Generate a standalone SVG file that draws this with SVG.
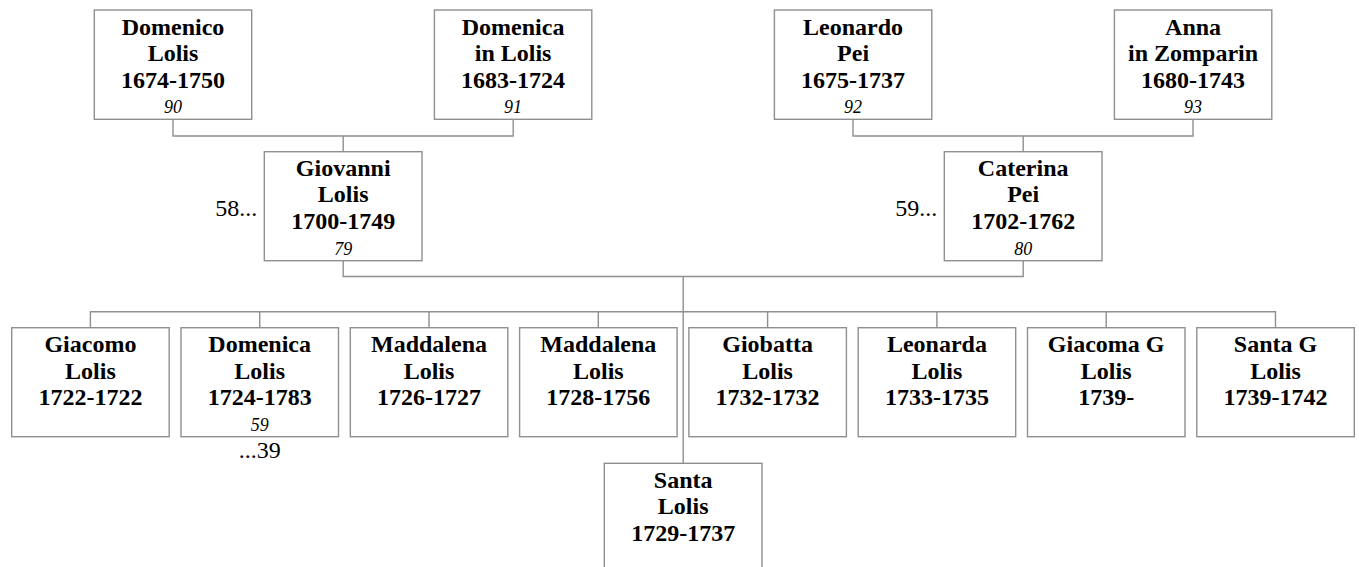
<svg xmlns="http://www.w3.org/2000/svg" width="1359" height="567" viewBox="0 0 1359 567">
<style>
.box{fill:#fff;stroke:#8f8f8f;stroke-width:1.4}
.con{fill:none;stroke:#8f8f8f;stroke-width:1.4}
.n{font-family:"Liberation Serif","Times New Roman",serif;font-weight:bold;font-size:24px;text-anchor:middle;fill:#000}
.i{font-family:"Liberation Serif","Times New Roman",serif;font-style:italic;font-size:18px;text-anchor:middle;fill:#000}
.r{font-family:"Liberation Serif","Times New Roman",serif;font-size:24px;fill:#000}
</style>
<rect width="1359" height="567" fill="#fff"/>
<g id="connectors">
<path class="con" d="M173,119.3 V136 H513.2 V119.3 M343.2,136 V151.7"/>
<path class="con" d="M853,119.3 V136 H1193 V119.3 M1023.2,136 V151.7"/>
<path class="con" d="M343.2,260.7 V276.5 H1023.2 V260.7 M683.2,276.5 V463.3"/>
<path class="con" d="M90.4,327.7 V311.7 H1275.5 V327.7 M259.7,311.7 V327.7 M429,311.7 V327.7 M598.3,311.7 V327.7 M767.6,311.7 V327.7 M936.9,311.7 V327.7 M1106.2,311.7 V327.7"/>
</g>
<g id="n90">
<rect class="box" x="94.3" y="10" width="157.4" height="109.3"/>
<text class="n" x="173" y="34.5">Domenico</text>
<text class="n" x="173" y="61">Lolis</text>
<text class="n" x="173" y="87.5">1674-1750</text>
<text class="i" x="173" y="113.3">90</text>
</g>
<g id="n91">
<rect class="box" x="434.4" y="10" width="157.4" height="109.3"/>
<text class="n" x="513.1" y="34.5">Domenica</text>
<text class="n" x="513.1" y="61">in Lolis</text>
<text class="n" x="513.1" y="87.5">1683-1724</text>
<text class="i" x="513.1" y="113.3">91</text>
</g>
<g id="n92">
<rect class="box" x="774.4" y="10" width="157.4" height="109.3"/>
<text class="n" x="853.1" y="34.5">Leonardo</text>
<text class="n" x="853.1" y="61">Pei</text>
<text class="n" x="853.1" y="87.5">1675-1737</text>
<text class="i" x="853.1" y="113.3">92</text>
</g>
<g id="n93">
<rect class="box" x="1114.4" y="10" width="157.4" height="109.3"/>
<text class="n" x="1193.1" y="34.5">Anna</text>
<text class="n" x="1193.1" y="61">in Zomparin</text>
<text class="n" x="1193.1" y="87.5">1680-1743</text>
<text class="i" x="1193.1" y="113.3">93</text>
</g>
<g id="n79">
<rect class="box" x="264.3" y="151.7" width="157.7" height="109"/>
<text class="n" x="343.2" y="175.5">Giovanni</text>
<text class="n" x="343.2" y="202">Lolis</text>
<text class="n" x="343.2" y="228.5">1700-1749</text>
<text class="i" x="343.2" y="254.5">79</text>
<text class="r" x="257.3" y="216" text-anchor="end">58...</text>
</g>
<g id="n80">
<rect class="box" x="944.3" y="151.7" width="157.7" height="109"/>
<text class="n" x="1023.2" y="175.5">Caterina</text>
<text class="n" x="1023.2" y="202">Pei</text>
<text class="n" x="1023.2" y="228.5">1702-1762</text>
<text class="i" x="1023.2" y="254.5">80</text>
<text class="r" x="937.3" y="216" text-anchor="end">59...</text>
</g>
<g id="c1">
<rect class="box" x="11.7" y="327.7" width="157.5" height="109"/>
<text class="n" x="90.4" y="352">Giacomo</text>
<text class="n" x="90.4" y="378.5">Lolis</text>
<text class="n" x="90.4" y="405">1722-1722</text>
</g>
<g id="c2">
<rect class="box" x="181" y="327.7" width="157.5" height="109"/>
<text class="n" x="259.7" y="352">Domenica</text>
<text class="n" x="259.7" y="378.5">Lolis</text>
<text class="n" x="259.7" y="405">1724-1783</text>
<text class="i" x="259.7" y="431">59</text>
<text class="r" x="259.7" y="457.7" text-anchor="middle">...39</text>
</g>
<g id="c3">
<rect class="box" x="350.3" y="327.7" width="157.5" height="109"/>
<text class="n" x="429" y="352">Maddalena</text>
<text class="n" x="429" y="378.5">Lolis</text>
<text class="n" x="429" y="405">1726-1727</text>
</g>
<g id="c4">
<rect class="box" x="519.6" y="327.7" width="157.5" height="109"/>
<text class="n" x="598.3" y="352">Maddalena</text>
<text class="n" x="598.3" y="378.5">Lolis</text>
<text class="n" x="598.3" y="405">1728-1756</text>
</g>
<g id="c5">
<rect class="box" x="688.9" y="327.7" width="157.5" height="109"/>
<text class="n" x="767.6" y="352">Giobatta</text>
<text class="n" x="767.6" y="378.5">Lolis</text>
<text class="n" x="767.6" y="405">1732-1732</text>
</g>
<g id="c6">
<rect class="box" x="858.2" y="327.7" width="157.5" height="109"/>
<text class="n" x="936.9" y="352">Leonarda</text>
<text class="n" x="936.9" y="378.5">Lolis</text>
<text class="n" x="936.9" y="405">1733-1735</text>
</g>
<g id="c7">
<rect class="box" x="1027.5" y="327.7" width="157.5" height="109"/>
<text class="n" x="1106.2" y="352">Giacoma G</text>
<text class="n" x="1106.2" y="378.5">Lolis</text>
<text class="n" x="1106.2" y="405">1739-</text>
</g>
<g id="c8">
<rect class="box" x="1196.8" y="327.7" width="157.5" height="109"/>
<text class="n" x="1275.5" y="352">Santa G</text>
<text class="n" x="1275.5" y="378.5">Lolis</text>
<text class="n" x="1275.5" y="405">1739-1742</text>
</g>
<g id="c9">
<rect class="box" x="604.3" y="463.3" width="157.7" height="109"/>
<text class="n" x="683.2" y="487.7">Santa</text>
<text class="n" x="683.2" y="514">Lolis</text>
<text class="n" x="683.2" y="540.5">1729-1737</text>
</g>
</svg>
